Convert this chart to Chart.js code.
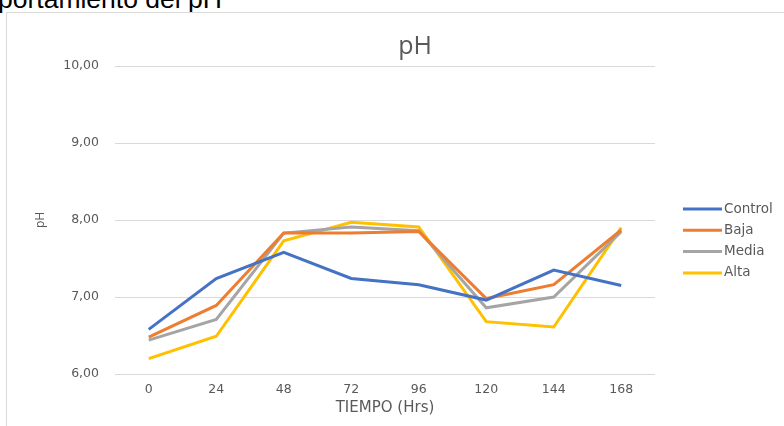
<!DOCTYPE html>
<html>
<head>
<meta charset="utf-8">
<script src="https://cdn.jsdelivr.net/npm/chart.js@4"></script>
<style>
  html, body { margin: 0; padding: 0; background: #ffffff; width: 784px; height: 426px; overflow: hidden; }
  #doc { position: absolute; left: -2px; top: -16px; font-family: "Liberation Sans", Arial, sans-serif; font-size: 26.5px; color: #000; white-space: nowrap; }
  #box { position: absolute; left: 6px; top: 12px; width: 816px; height: 420px; border: 1px solid #d9d9d9; background: #fff; }
  canvas { display: block; }
</style>
</head>
<body>
<div id="doc">portamiento del pH</div>
<div id="box"><canvas id="c" width="816" height="420" style="width:816px;height:420px"></canvas></div>
<script>
const categories = ["0", "24", "48", "72", "96", "120", "144", "168"];
const seriesNames = ["Control", "Baja", "Media", "Alta"];
const control = [6.58, 7.24, 7.58, 7.24, 7.16, 6.96, 7.35, 7.15];
const baja    = [6.48, 6.89, 7.83, 7.83, 7.85, 6.98, 7.16, 7.87];
const media   = [6.44, 6.71, 7.83, 7.91, 7.86, 6.86, 7.00, 7.85];
const alta    = [6.20, 6.49, 7.73, 7.97, 7.91, 6.68, 6.61, 7.90];
const yTicks  = [6, 7, 8, 9, 10];
const colors  = ["#4472C4", "#ED7D31", "#A5A5A5", "#FFC000"];
const chartTitle = "pH";
const xTitle = "TIEMPO (Hrs)";
const yTitle = "pH";

const TXT = "#595959";
const GRID = "#d9d9d9";
const FONT = "'Open Sans', 'DejaVu Sans', sans-serif";
const DV = "'DejaVu Sans', sans-serif";

const allSeries = [control, baja, media, alta];

const sidePlugin = {
  id: "side",
  afterDraw(chart) {
    const ctx = chart.ctx;
    const ca = chart.chartArea;
    ctx.save();
    // title
    ctx.fillStyle = TXT;
    ctx.font = "25px " + FONT;
    ctx.textAlign = "center";
    ctx.textBaseline = "alphabetic";
    ctx.fillText(chartTitle, chart.width / 2, 41);
    // legend
    ctx.font = "13.5px " + DV;
    ctx.textAlign = "left";
    ctx.textBaseline = "middle";
    chart.data.datasets.forEach((ds, i) => {
      const y = 196 + i * 21.3;
      const x0 = ca.right + 28;
      ctx.strokeStyle = ds.borderColor;
      ctx.lineWidth = 3;
      ctx.beginPath();
      ctx.moveTo(x0, y);
      ctx.lineTo(x0 + 39, y);
      ctx.stroke();
      ctx.fillStyle = TXT;
      ctx.fillText(ds.label, x0 + 41, y);
    });
    ctx.restore();
  }
};

new Chart(document.getElementById("c"), {
  type: "line",
  data: {
    labels: categories,
    datasets: seriesNames.map((name, i) => ({
      label: name,
      data: allSeries[i],
      borderColor: colors[i],
      backgroundColor: colors[i],
      borderWidth: 3,
      pointRadius: 0,
      tension: 0,
      fill: false
    }))
  },
  options: {
    responsive: false,
    animation: false,
    layout: { padding: { left: 0, top: 53, right: 168, bottom: 16 } },
    plugins: {
      legend: { display: false },
      title: { display: false },
      tooltip: { enabled: false }
    },
    scales: {
      x: {
        offset: true,
        grid: { display: false, drawTicks: false },
        border: { display: false },
        ticks: { color: TXT, font: { family: DV, size: 12.5 }, padding: 8, maxRotation: 0 },
        title: { display: true, text: xTitle, color: TXT, font: { family: DV, size: 15 }, padding: { top: 0, bottom: 0 } },
        afterFit(s) { s.height = 43; }
      },
      y: {
        min: 6, max: 10,
        afterBuildTicks(s) { s.ticks = yTicks.map(v => ({ value: v })); },
        grid: { color: GRID, lineWidth: 1, drawTicks: false },
        border: { display: false },
        ticks: {
          color: TXT, font: { family: DV, size: 12.5 }, padding: 16,
          callback: v => v.toFixed(2).replace(".", ",")
        },
        title: { display: true, text: yTitle, color: TXT, font: { family: FONT, size: 12 }, padding: { top: 26, bottom: 0 } },
        afterFit(s) { s.width = 108; }
      }
    }
  },
  plugins: [sidePlugin]
});
</script>
</body>
</html>
